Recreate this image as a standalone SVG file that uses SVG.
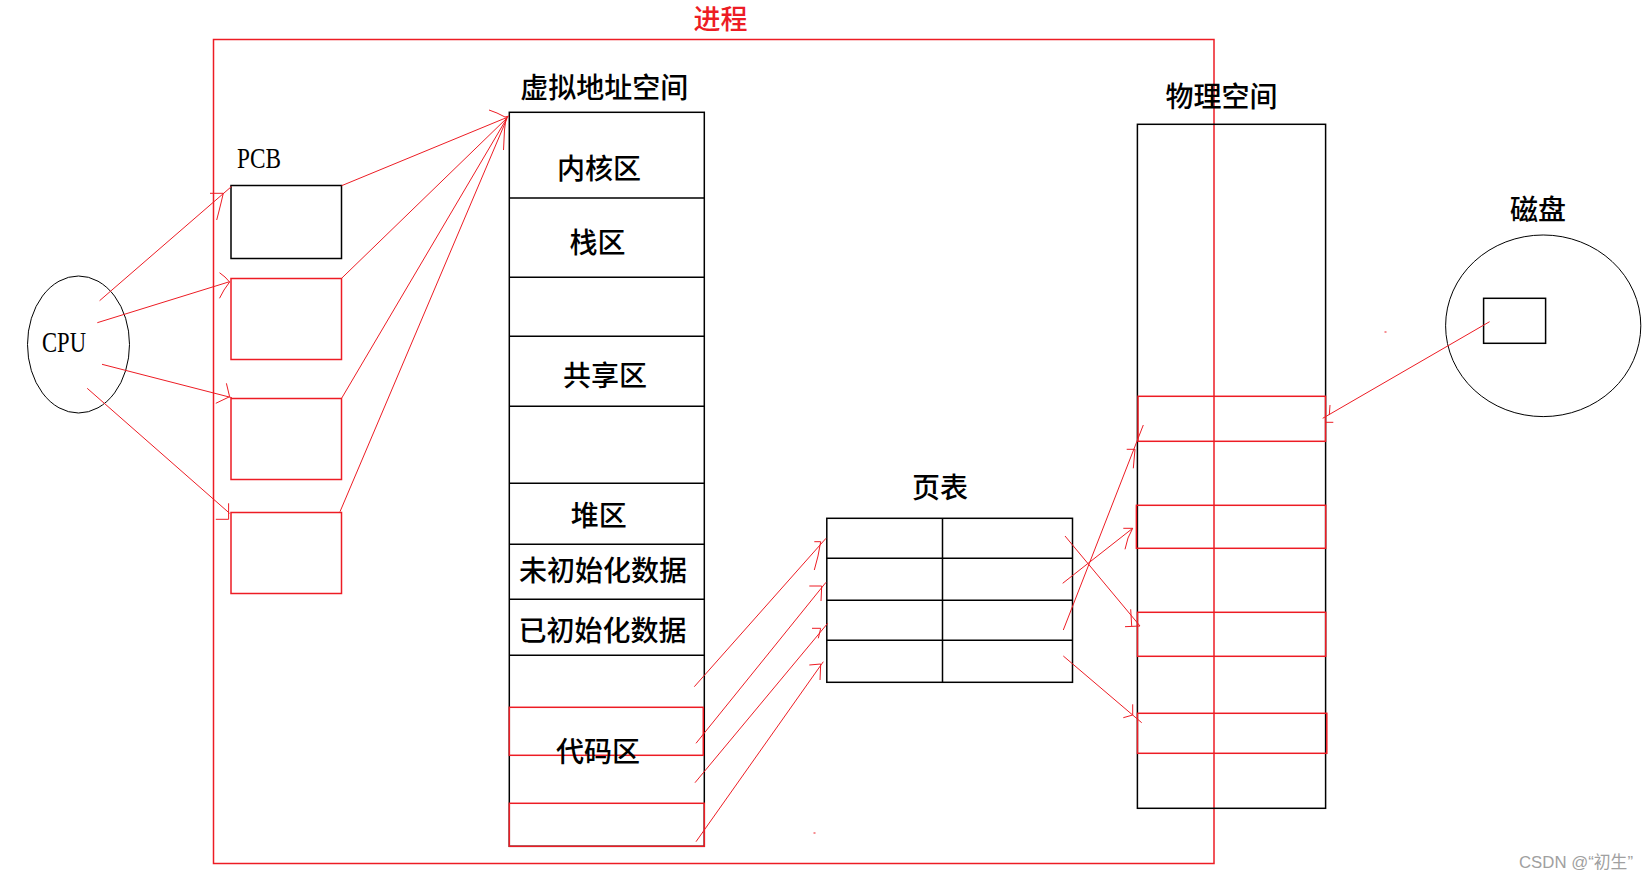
<svg xmlns="http://www.w3.org/2000/svg" width="1646" height="881" viewBox="0 0 1646 881">
<style>
.bk{fill:none;stroke:#000;stroke-width:1.5}
.rd{fill:none;stroke:#ed1c24;stroke-width:1.5}
.cn{fill:none;stroke:#ed1c24;stroke-width:1}
.cj{font-family:"Noto Sans CJK SC","Noto Sans CJK JP",sans-serif;font-size:28px;font-weight:500;fill:#000;text-anchor:middle}
.lt{font-family:"Liberation Serif",serif;font-size:30px;fill:#000}
</style>
<rect width="1646" height="881" fill="#fff"/>
<g id="process">
<rect class="rd" x="213.5" y="39.5" width="1000.5" height="824"/>
<text class="cj" x="720.5" y="28.5" style="fill:#ed1c24;font-size:27px">进程</text>
</g>
<g id="cpu">
<ellipse class="bk" cx="78.5" cy="344.5" rx="51" ry="68.5" style="stroke-width:1"/>
<text class="lt" x="42" y="352" textLength="44" lengthAdjust="spacingAndGlyphs">CPU</text>
</g>
<g id="pcb">
<text class="lt" x="237" y="168" textLength="44" lengthAdjust="spacingAndGlyphs">PCB</text>
<rect id="pcb-1" class="bk" x="231" y="185.5" width="110.5" height="73"/>
<rect id="pcb-2" class="rd" x="231" y="278.5" width="110.5" height="81"/>
<rect id="pcb-3" class="rd" x="231" y="398.5" width="110.5" height="81"/>
<rect id="pcb-4" class="rd" x="231" y="512.5" width="110.5" height="81"/>
</g>
<g id="virtual-address-space">
<text class="cj" x="604.3" y="97.5">虚拟地址空间</text>
<rect class="bk" x="509.3" y="112.3" width="195" height="734"/>
<path class="bk" d="M509.3 198H704.3M509.3 277.3H704.3M509.3 336.3H704.3M509.3 406.3H704.3M509.3 483.3H704.3M509.3 544.3H704.3M509.3 599.3H704.3M509.3 655.3H704.3"/>
<rect class="rd" x="509.3" y="707.3" width="194" height="48"/>
<rect class="rd" x="509.3" y="803.3" width="195" height="43"/>
<text class="cj" x="599" y="178.5">内核区</text>
<text class="cj" x="597.5" y="253">栈区</text>
<text class="cj" x="605" y="386">共享区</text>
<text class="cj" x="598.7" y="526">堆区</text>
<text class="cj" x="603" y="580.5">未初始化数据</text>
<text class="cj" x="602.5" y="640.5">已初始化数据</text>
<text class="cj" x="598" y="762">代码区</text>
</g>
<g id="page-table">
<text class="cj" x="940" y="498">页表</text>
<rect class="bk" x="826.8" y="518.3" width="245.7" height="164"/>
<path class="bk" d="M826.8 558.3H1072.5M826.8 600.3H1072.5M826.8 640.3H1072.5M942.5 518.3V682.3"/>
</g>
<g id="physical-space">
<text class="cj" x="1221.6" y="107">物理空间</text>
<rect class="bk" x="1137.4" y="124.3" width="188.2" height="684"/>
<rect class="rd" x="1138" y="396.3" width="187.5" height="45"/>
<rect class="rd" x="1136.4" y="505.3" width="189.3" height="43"/>
<rect class="rd" x="1137.5" y="612.3" width="188.2" height="44"/>
<rect class="rd" x="1137.5" y="713.3" width="189.3" height="40"/>
</g>
<g id="disk">
<text class="cj" x="1538" y="219.5">磁盘</text>
<ellipse class="bk" cx="1543.2" cy="325.8" rx="97.6" ry="90.8" style="stroke-width:1"/>
<rect class="bk" x="1483.6" y="298.3" width="62" height="45"/>
</g>
<g id="connectors">
<path class="cn" d="M99.6 300.7L231.5 186.5M210 193.3H223.3L221 203L218.5 213L216.7 220"/>
<path class="cn" d="M97.3 322.7L229.6 281.7M219.5 272.7L225 277L229.6 282L224 290L219.5 298.3"/>
<path class="cn" d="M102 364.3L231.9 397.7M226.4 383.3L229.6 396.7L215.8 403.3"/>
<path class="cn" d="M87.2 388.3L229.6 513.3M228.6 503.3V519.3H215.8"/>
<path class="cn" d="M341.6 185.7L508 117M341.6 278.3L507.5 117.5M341.6 398.3L507 118M340 511.7L507 118.5"/>
<path class="cn" d="M489 110L497 113L505 117L509 116M506 118L504.5 130L503.5 150"/>
<path class="cn" d="M694.3 686.7L826 538.3M814.3 541.7H820.7L818 556L814.3 570"/>
<path class="cn" d="M696 743.3L826 582.3M809.3 586H821.7L821 601"/>
<path class="cn" d="M695 782.7L827.7 623.3M812 628.3H820.7L818.3 638.3"/>
<path class="cn" d="M696 841.7L823.3 661.7M809.3 665L820.7 664L820 680"/>
<path class="cn" d="M1063.3 630L1143.3 425M1126.7 449.3H1135L1133.3 468.3"/>
<path class="cn" d="M1062.7 583.3L1132.7 528.3M1123.3 528.3H1132.7L1128 538L1125 549.3"/>
<path class="cn" d="M1065 536L1140 626M1130.7 609.3L1131.7 626M1125 626.7L1140 626"/>
<path class="cn" d="M1063.3 656L1141.7 722.7M1132.7 704.3V715L1123.3 717.7"/>
<path class="cn" d="M1489.6 321.7L1322.7 418.3M1330 405L1329.3 415M1326 422.3H1333.3"/>
</g>
<g id="specks" fill="#ed1c24">
<rect x="1384.5" y="331.5" width="2" height="1"/>
<rect x="813.5" y="832.5" width="2" height="1"/>
</g>
<g id="watermark">
<text x="1633" y="868" style="font-family:'Liberation Sans','Noto Sans CJK SC',sans-serif;font-size:16.8px;fill:#a0a0a0;text-anchor:end">CSDN @“初生”</text>
</g>
</svg>
